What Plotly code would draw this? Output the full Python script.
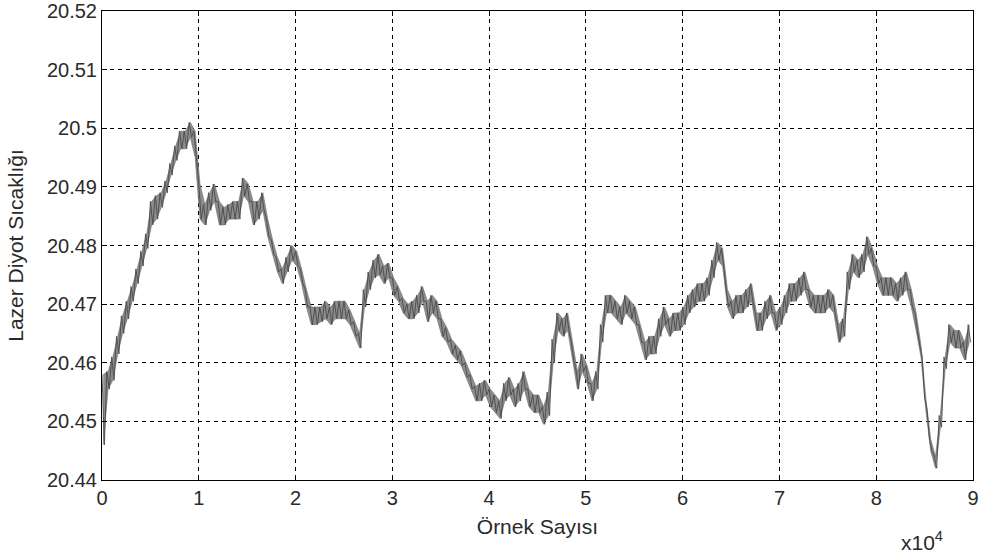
import plotly.graph_objects as go

# sample index (every 500 samples) at which the band edges were read
sample_step = 500
upper_edge = [
    20.4580, 20.4585, 20.4610, 20.4645, 20.4680, 20.4705, 20.4730, 20.4760, 20.4790, 20.4820,
    20.4875, 20.4885, 20.4890, 20.4910, 20.4940, 20.4970, 20.4995, 20.4995, 20.5010, 20.4995,
    20.4905, 20.4870, 20.4890, 20.4905, 20.4875, 20.4865, 20.4870, 20.4875, 20.4875, 20.4915,
    20.4905, 20.4875, 20.4875, 20.4890, 20.4845, 20.4810, 20.4780, 20.4760, 20.4780, 20.4800,
    20.4790, 20.4760, 20.4725, 20.4695, 20.4695, 20.4695, 20.4705, 20.4695, 20.4705, 20.4705,
    20.4705, 20.4690, 20.4670, 20.4650, 20.4725, 20.4755, 20.4775, 20.4785, 20.4765, 20.4770,
    20.4745, 20.4730, 20.4710, 20.4700, 20.4705, 20.4715, 20.4730, 20.4705, 20.4715, 20.4705,
    20.4675, 20.4660, 20.4640, 20.4630, 20.4620, 20.4600, 20.4580, 20.4560, 20.4565, 20.4570,
    20.4555, 20.4545, 20.4535, 20.4565, 20.4575, 20.4555, 20.4565, 20.4585, 20.4555, 20.4545,
    20.4545, 20.4525, 20.4550, 20.4640, 20.4685, 20.4675, 20.4685, 20.4635, 20.4585, 20.4615,
    20.4595, 20.4565, 20.4585, 20.4665, 20.4715, 20.4715, 20.4705, 20.4695, 20.4715, 20.4705,
    20.4695, 20.4665, 20.4635, 20.4645, 20.4645, 20.4675, 20.4695, 20.4675, 20.4685, 20.4685,
    20.4695, 20.4715, 20.4725, 20.4735, 20.4735, 20.4745, 20.4775, 20.4805, 20.4795, 20.4725,
    20.4705, 20.4715, 20.4715, 20.4725, 20.4735, 20.4685, 20.4685, 20.4705, 20.4715, 20.4685,
    20.4695, 20.4715, 20.4735, 20.4735, 20.4745, 20.4755, 20.4725, 20.4715, 20.4715, 20.4715,
    20.4725, 20.4715, 20.4665, 20.4675, 20.4755, 20.4785, 20.4775, 20.4785, 20.4815, 20.4795,
    20.4765, 20.4745, 20.4745, 20.4745, 20.4735, 20.4745, 20.4755, 20.4725, 20.4685, 20.4630,
    20.4540, 20.4470, 20.4440, 20.4510, 20.4610, 20.4665, 20.4655, 20.4655, 20.4635, 20.4665,
]
lower_edge = [
    20.4460, 20.4555, 20.4570, 20.4615, 20.4650, 20.4675, 20.4705, 20.4735, 20.4765, 20.4795,
    20.4835, 20.4845, 20.4865, 20.4890, 20.4920, 20.4945, 20.4965, 20.4965, 20.4985, 20.4950,
    20.4845, 20.4835, 20.4860, 20.4875, 20.4835, 20.4835, 20.4845, 20.4845, 20.4845, 20.4885,
    20.4875, 20.4835, 20.4845, 20.4860, 20.4815, 20.4785, 20.4755, 20.4735, 20.4755, 20.4775,
    20.4765, 20.4735, 20.4695, 20.4665, 20.4665, 20.4670, 20.4675, 20.4665, 20.4675, 20.4675,
    20.4675, 20.4665, 20.4645, 20.4625, 20.4695, 20.4725, 20.4745, 20.4750, 20.4735, 20.4745,
    20.4715, 20.4705, 20.4685, 20.4675, 20.4675, 20.4685, 20.4705, 20.4670, 20.4685, 20.4675,
    20.4645, 20.4635, 20.4615, 20.4605, 20.4595, 20.4575, 20.4555, 20.4535, 20.4535, 20.4545,
    20.4525, 20.4515, 20.4505, 20.4535, 20.4545, 20.4525, 20.4535, 20.4555, 20.4525, 20.4515,
    20.4515, 20.4495, 20.4510, 20.4600, 20.4655, 20.4645, 20.4655, 20.4605, 20.4555, 20.4585,
    20.4565, 20.4535, 20.4555, 20.4635, 20.4685, 20.4685, 20.4675, 20.4665, 20.4685, 20.4675,
    20.4665, 20.4635, 20.4605, 20.4615, 20.4615, 20.4645, 20.4665, 20.4645, 20.4655, 20.4655,
    20.4665, 20.4685, 20.4695, 20.4705, 20.4705, 20.4715, 20.4745, 20.4775, 20.4765, 20.4695,
    20.4675, 20.4685, 20.4685, 20.4695, 20.4705, 20.4655, 20.4655, 20.4675, 20.4685, 20.4655,
    20.4665, 20.4685, 20.4705, 20.4705, 20.4715, 20.4725, 20.4695, 20.4685, 20.4685, 20.4685,
    20.4695, 20.4685, 20.4635, 20.4645, 20.4725, 20.4755, 20.4745, 20.4755, 20.4785, 20.4765,
    20.4735, 20.4715, 20.4715, 20.4715, 20.4705, 20.4715, 20.4725, 20.4695, 20.4655, 20.4610,
    20.4520, 20.4450, 20.4420, 20.4490, 20.4590, 20.4635, 20.4625, 20.4625, 20.4605, 20.4635,
]

x_tick_vals = [0, 10000, 20000, 30000, 40000, 50000, 60000, 70000, 80000, 90000]
x_tick_text = ["0", "1", "2", "3", "4", "5", "6", "7", "8", "9"]
y_tick_vals = [20.44, 20.45, 20.46, 20.47, 20.48, 20.49, 20.50, 20.51, 20.52]
y_tick_text = ["20.44", "20.45", "20.46", "20.47", "20.48", "20.49", "20.5", "20.51", "20.52"]

x_title = "Örnek Sayısı"
y_title = "Lazer Diyot Sıcaklığı"

# interleave the two read edges into a single noisy trace
xs, ys = [], []
for i, (u, l) in enumerate(zip(upper_edge, lower_edge)):
    xs.append(i * sample_step)
    ys.append(u)
    xs.append(i * sample_step + sample_step / 2)
    ys.append(l)

edge_x = [i * sample_step + sample_step / 4 for i in range(len(upper_edge))]

font_family = "Liberation Sans, Arial, sans-serif"
text_col = "#2a2a2a"

fig = go.Figure()
# shaded noise band between the read edges
fig.add_trace(go.Scatter(x=edge_x, y=lower_edge, mode="lines",
                         line=dict(color="#6a6a6a", width=0.6, simplify=False),
                         showlegend=False, hoverinfo="skip"))
fig.add_trace(go.Scatter(x=edge_x, y=upper_edge, mode="lines", fill="tonexty",
                         fillcolor="#8c8c8c",
                         line=dict(color="#6a6a6a", width=0.6, simplify=False),
                         showlegend=False, hoverinfo="skip"))
# the noisy signal itself
fig.add_trace(go.Scatter(x=xs, y=ys, mode="lines",
                         line=dict(color="#4a4a4a", width=0.9, simplify=False),
                         showlegend=False, hoverinfo="skip"))

axis_common = dict(
    showline=True, linecolor="black", linewidth=1, mirror="allticks",
    ticks="inside", ticklen=5, tickcolor="black",
    showgrid=True, gridcolor="black", gridwidth=1, griddash="4px,4px",
    zeroline=False, automargin=False, ticklabeloverflow="allow",
    tickfont=dict(family=font_family, size=20, color=text_col),
)

fig.update_layout(
    width=981, height=557,
    margin=dict(l=102, r=8, t=11, b=77),
    paper_bgcolor="white", plot_bgcolor="white",
    xaxis=dict(range=[0, 90000], tickvals=x_tick_vals, ticktext=x_tick_text,
               title=dict(text=x_title, font=dict(family=font_family, size=21, color=text_col),
                          standoff=11),
               **axis_common),
    yaxis=dict(range=[20.44, 20.52], tickvals=y_tick_vals, ticktext=y_tick_text,
               title=dict(text=y_title, font=dict(family=font_family, size=21, color=text_col),
                          standoff=17),
               **axis_common),
)

fig.add_annotation(text="x10<sup>4</sup>", xref="paper", yref="paper",
                   x=(945 - 102) / 871, y=(480 - 541) / 469,
                   xanchor="right", yanchor="middle", showarrow=False,
                   font=dict(family=font_family, size=21, color=text_col))

fig.write_html("out.html", config={"displayModeBar": False},
               post_script="document.body.style.margin='0';document.body.style.overflow='hidden';")
